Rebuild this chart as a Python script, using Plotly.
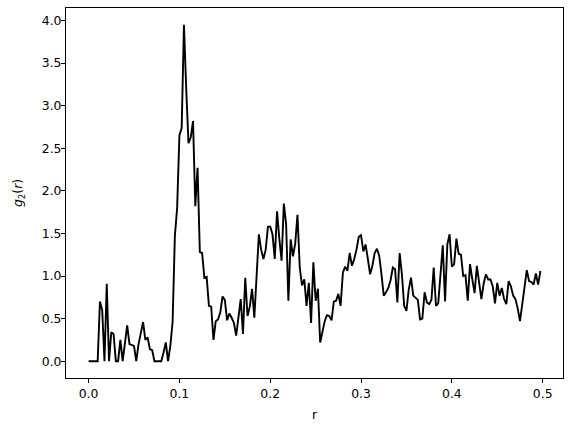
import numpy as np
import plotly.graph_objects as go

step = 0.0025
g2_values = [
    0.0, 0.0, 0.0, 0.0, 0.0, 0.70, 0.60, 0.0, 0.91, 0.0,
    0.34, 0.32, 0.0, 0.0, 0.25, 0.0, 0.20, 0.42, 0.20, 0.19,
    0.18, 0.0, 0.20, 0.33, 0.46, 0.25, 0.28, 0.14, 0.13, 0.0,
    0.0, 0.0, 0.0, 0.10, 0.22, 0.0, 0.18, 0.46, 1.47, 1.80,
    2.65, 2.74, 3.95, 3.20, 2.56, 2.63, 2.82, 1.82, 2.27, 1.28,
    1.27, 0.98, 0.99, 0.65, 0.64, 0.25, 0.47, 0.49, 0.57, 0.76,
    0.72, 0.48, 0.56, 0.51, 0.45, 0.30, 0.50, 0.73, 0.32, 0.98,
    0.53, 0.64, 0.85, 0.51, 1.00, 1.49, 1.31, 1.20, 1.31, 1.58,
    1.58, 1.49, 1.20, 1.76, 1.44, 1.18, 1.85, 1.61, 0.71,
    1.43, 1.23, 1.38, 1.72, 1.10, 0.89, 0.96, 0.65, 0.92, 0.45,
    1.16, 0.71, 0.85, 0.22, 0.36, 0.47, 0.54, 0.53, 0.48, 0.70,
    0.71, 0.79, 0.65, 1.04, 1.11, 1.06, 1.27, 1.12, 1.20, 1.31,
    1.46, 1.48, 1.29, 1.37, 1.20, 1.02, 1.12, 1.27, 1.32, 1.24,
    1.02, 0.77, 0.81, 0.86, 0.95, 1.10, 1.08, 0.69, 1.27, 1.02,
    0.65, 0.59, 0.84, 0.98, 0.77, 0.75, 0.72, 0.49, 0.50, 0.81,
    0.69, 0.67, 0.72, 1.10, 0.65, 0.68, 1.00, 1.36, 0.70, 1.37,
    1.49, 1.11, 1.14, 1.44, 1.26, 1.25, 1.00, 1.01, 0.71, 1.14,
    0.96, 0.80, 1.12, 0.90, 0.73, 0.91, 1.02, 0.96, 0.96, 0.88,
    0.68, 0.92, 0.77, 0.86, 0.73, 0.67, 0.94, 0.88, 0.77, 0.73,
    0.62, 0.47, 0.69, 0.90, 1.07, 0.94, 0.93, 0.90, 1.03, 0.90, 1.06,
]
r_values = [round(i * step, 6) for i in range(len(g2_values))]

x_ticks = [0.0, 0.1, 0.2, 0.3, 0.4, 0.5]
y_ticks = [0.0, 0.5, 1.0, 1.5, 2.0, 2.5, 3.0, 3.5, 4.0]

xmin, xmax = min(r_values), max(r_values)
ymin, ymax = min(g2_values), max(g2_values)
xpad = 0.05 * (xmax - xmin)
ypad = 0.05 * (ymax - ymin)

fig = go.Figure()
fig.add_trace(go.Scatter(
    x=r_values, y=g2_values, mode="lines",
    line=dict(color="black", width=1.9),
    showlegend=False, hoverinfo="skip",
))

font = dict(family="DejaVu Sans", size=12.4, color="black")
axis_common = dict(
    showline=True, linecolor="black", linewidth=1, mirror=True,
    ticks="outside", ticklen=4, tickwidth=1, tickcolor="black",
    showgrid=False, zeroline=False, tickfont=font, automargin=False,
)
fig.update_layout(
    width=571, height=432,
    margin=dict(l=66, r=8, t=8, b=54),
    plot_bgcolor="white", paper_bgcolor="white",
    font=font,
    xaxis=dict(range=[xmin - xpad, xmax + xpad], tickvals=x_ticks,
               ticktext=[f"{v:.1f}" for v in x_ticks],
               title=dict(text="r", font=font, standoff=10), **axis_common),
    yaxis=dict(range=[ymin - ypad, ymax + ypad], tickvals=y_ticks,
               ticktext=[f"{v:.1f}" for v in y_ticks],
               ticklabelstandoff=-3,
               title=dict(text="<i>g</i><sub>2</sub>(<i>r</i>)", font=font, standoff=16),
               **axis_common),
)
fig.write_html("out.html", config={"displayModeBar": False, "staticPlot": True},
               post_script="document.body.style.margin='0';document.body.style.overflow='hidden';")
